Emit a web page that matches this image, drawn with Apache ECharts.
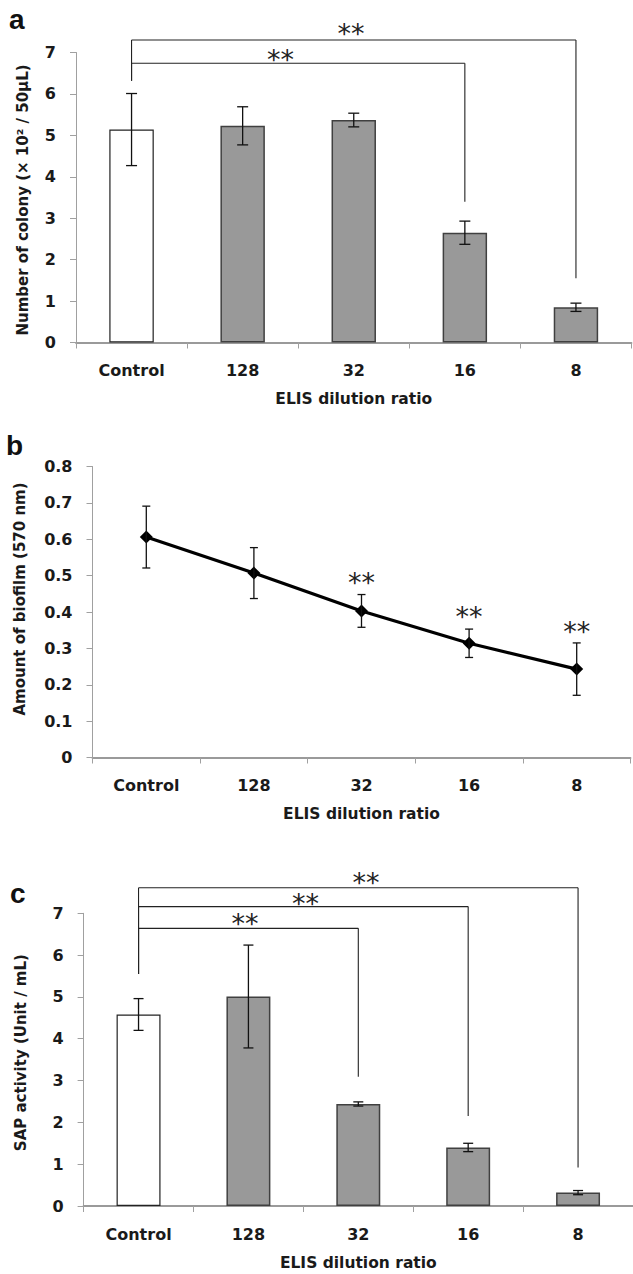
<!DOCTYPE html>
<html><head><meta charset="utf-8">
<script src="https://cdn.jsdelivr.net/npm/echarts@6/dist/echarts.min.js"></script>
<style>html,body{margin:0;padding:0;background:#fff}#c{width:633px;height:1274px}</style>
</head><body><div id="c"></div>
<script>
// ---- data ----
const categories = ['Control', '128', '32', '16', '8'];
const xName = 'ELIS dilution ratio';

const colonyMean = [5.14, 5.23, 5.37, 2.65, 0.85];
const colonyErr  = [0.87, 0.46, 0.165, 0.28, 0.10];
const colonyRange = [0, 7, 1];
// [fromIdx, toIdx, lineY, leftDropY, rightDropY, starIdx, starY]
const colonyBrackets = [
  [0, 4, 7.30, 6.32, 1.55, 1.975, 7.52],
  [0, 3, 6.74, 6.32, 3.40, 1.34, 6.90]
];

const biofilmMean = [0.606, 0.507, 0.403, 0.314, 0.243];
const biofilmErr  = [0.085, 0.070, 0.045, 0.039, 0.072];
const biofilmStarY = [null, null, 0.490, 0.395, 0.356];
const biofilmRange = [0, 0.8, 0.1];

const sapMean = [4.58, 5.01, 2.44, 1.40, 0.32];
const sapErr  = [0.38, 1.23, 0.05, 0.10, 0.05];
const sapRange = [0, 7, 1];
const sapBrackets = [
  [0, 4, 7.61, 5.55, 0.92, 2.07, 7.80],
  [0, 3, 7.16, 5.55, 2.15, 1.52, 7.30],
  [0, 2, 6.64, 5.55, 3.09, 0.97, 6.82]
];

// ---- styling helpers ----
const FONT = 'DejaVu Sans';
const TXT = '#1a1a1a';

function xAxisCfg(gi, gap) {
  return {
    type: 'category', gridIndex: gi, data: categories, boundaryGap: true,
    axisLine: { show: true, lineStyle: { color: '#9a9a9a', width: 1.8 } },
    axisTick: { show: true, interval: 0, length: 6, lineStyle: { color: '#a0a0a0', width: 1 } },
    axisLabel: { interval: 0, margin: 20, fontFamily: FONT, fontWeight: 'bold', fontSize: 16, color: TXT, lineHeight: 16 },
    splitLine: { show: false },
    name: xName, nameLocation: 'middle', nameGap: gap,
    nameTextStyle: { fontFamily: FONT, fontWeight: 'bold', fontSize: 15.5, color: TXT, lineHeight: 16 }
  };
}
function yAxisCfg(gi, range, name, gap, pad) {
  return {
    type: 'value', gridIndex: gi, min: range[0], max: range[1], interval: range[2],
    axisLine: { show: true, lineStyle: { color: '#a0a0a0', width: 1 } },
    axisTick: { show: true, length: 6, lineStyle: { color: '#a0a0a0', width: 1 } },
    axisLabel: { margin: 20, fontFamily: FONT, fontWeight: 'bold', fontSize: 16, color: TXT },
    splitLine: { show: false },
    name: name, nameLocation: 'middle', nameGap: gap,
    nameTextStyle: { fontFamily: FONT, fontWeight: 'bold', fontSize: 15, color: TXT, padding: pad }
  };
}

function errorBarSeries(xi, mean, err, cap) {
  return {
    type: 'custom', xAxisIndex: xi, yAxisIndex: xi, z: 5, silent: true,
    encode: { x: 0, y: 1 },
    data: mean.map((m, i) => [i, m, err[i]]),
    renderItem: function (params, api) {
      const i = api.value(0), m = api.value(1), e = api.value(2);
      const hi = api.coord([i, m + e]), lo = api.coord([i, m - e]);
      const x = hi[0];
      const s = { stroke: '#111', lineWidth: 1.3, fill: null };
      return { type: 'group', children: [
        { type: 'line', shape: { x1: x, y1: hi[1], x2: x, y2: lo[1] }, style: s },
        { type: 'line', shape: { x1: x - cap / 2, y1: hi[1], x2: x + cap / 2, y2: hi[1] }, style: s },
        { type: 'line', shape: { x1: x - cap / 2, y1: lo[1], x2: x + cap / 2, y2: lo[1] }, style: s }
      ] };
    }
  };
}

function starText(x, y) {
  return { type: 'text', x: x, y: y + 3,
    style: { text: '**', fontFamily: FONT, fontSize: 27, fill: '#222', align: 'center', verticalAlign: 'middle', textAlign: 'center', textVerticalAlign: 'middle' } };
}

function bracketSeries(xi, brackets) {
  return {
    type: 'custom', xAxisIndex: xi, yAxisIndex: xi, z: 6, silent: true, clip: false,
    encode: { x: 0, y: 2 },
    data: brackets,
    renderItem: function (params, api) {
      const a = api.value(0), b = api.value(1), y = api.value(2);
      const yl = api.value(3), yr = api.value(4), si = api.value(5), sy = api.value(6);
      const pL = api.coord([a, y]), pR = api.coord([b, y]);
      const pLb = api.coord([a, yl]), pRb = api.coord([b, yr]);
      const k = Math.floor(si);
      const c0 = api.coord([k, sy]), c1 = api.coord([k + 1, sy]);
      const sx = c0[0] + (si - k) * (c1[0] - c0[0]);
      const s = { stroke: '#222', lineWidth: 1.1, fill: null };
      return { type: 'group', children: [
        { type: 'line', shape: { x1: pL[0], y1: pL[1], x2: pR[0], y2: pR[1] }, style: s },
        { type: 'line', shape: { x1: pL[0], y1: pL[1], x2: pLb[0], y2: pLb[1] }, style: s },
        { type: 'line', shape: { x1: pR[0], y1: pR[1], x2: pRb[0], y2: pRb[1] }, style: s },
        starText(sx, c0[1])
      ] };
    }
  };
}

function barData(mean) {
  return mean.map((v, i) => ({
    value: v,
    itemStyle: i === 0
      ? { color: '#ffffff', borderColor: '#222', borderWidth: 1.2 }
      : { color: '#999999', borderColor: '#404040', borderWidth: 1.5 }
  }));
}

const chart = echarts.init(document.getElementById('c'), null, { renderer: 'svg' });
chart.setOption({
  animation: false,
  backgroundColor: '#ffffff',
  grid: [
    { left: 76, width: 555.5, top: 52.5, height: 290 },
    { left: 92.5, width: 538, top: 466.5, height: 291 },
    { left: 83.6, width: 554, top: 913.3, height: 292.7 }
  ],
  xAxis: [xAxisCfg(0, 48.5), xAxisCfg(1, 48.5), xAxisCfg(2, 49)],
  yAxis: [
    yAxisCfg(0, colonyRange, 'Number of colony (× 10² / 50μL)', 45.5, [0, 5, 0, 0]),
    yAxisCfg(1, biofilmRange, 'Amount of biofilm (570 nm)', 65, [0, 0, 0, 26]),
    yAxisCfg(2, sapRange, 'SAP activity (Unit / mL)', 55, [0, 0, 0, 14])
  ],
  graphic: [
    { type: 'text', x: 9, y: 5, style: { text: 'a', fontFamily: 'Liberation Sans', fontWeight: 'bold', fontSize: 28, fill: '#111' } },
    { type: 'text', x: 6, y: 431, style: { text: 'b', fontFamily: 'Liberation Sans', fontWeight: 'bold', fontSize: 28, fill: '#111' } },
    { type: 'text', x: 10, y: 879, style: { text: 'c', fontFamily: 'Liberation Sans', fontWeight: 'bold', fontSize: 28, fill: '#111' } }
  ],
  series: [
    { type: 'bar', xAxisIndex: 0, yAxisIndex: 0, barWidth: '40%', data: barData(colonyMean), silent: true },
    errorBarSeries(0, colonyMean, colonyErr, 11),
    bracketSeries(0, colonyBrackets),

    { type: 'line', xAxisIndex: 1, yAxisIndex: 1, data: biofilmMean, symbol: 'diamond', symbolSize: 13,
      lineStyle: { color: '#000', width: 3.2 }, itemStyle: { color: '#000' }, silent: true, z: 3 },
    errorBarSeries(1, biofilmMean, biofilmErr, 8),
    {
      type: 'custom', xAxisIndex: 1, yAxisIndex: 1, z: 6, silent: true, clip: false,
      encode: { x: 0, y: 1 },
      data: biofilmStarY.map((v, i) => [i, v]).filter(d => d[1] != null),
      renderItem: function (params, api) {
        const p = api.coord([api.value(0), api.value(1)]);
        return starText(p[0], p[1]);
      }
    },

    { type: 'bar', xAxisIndex: 2, yAxisIndex: 2, barWidth: '40%', data: barData(sapMean), silent: true },
    errorBarSeries(2, sapMean, sapErr, 10),
    bracketSeries(2, sapBrackets)
  ]
});
</script></body></html>
